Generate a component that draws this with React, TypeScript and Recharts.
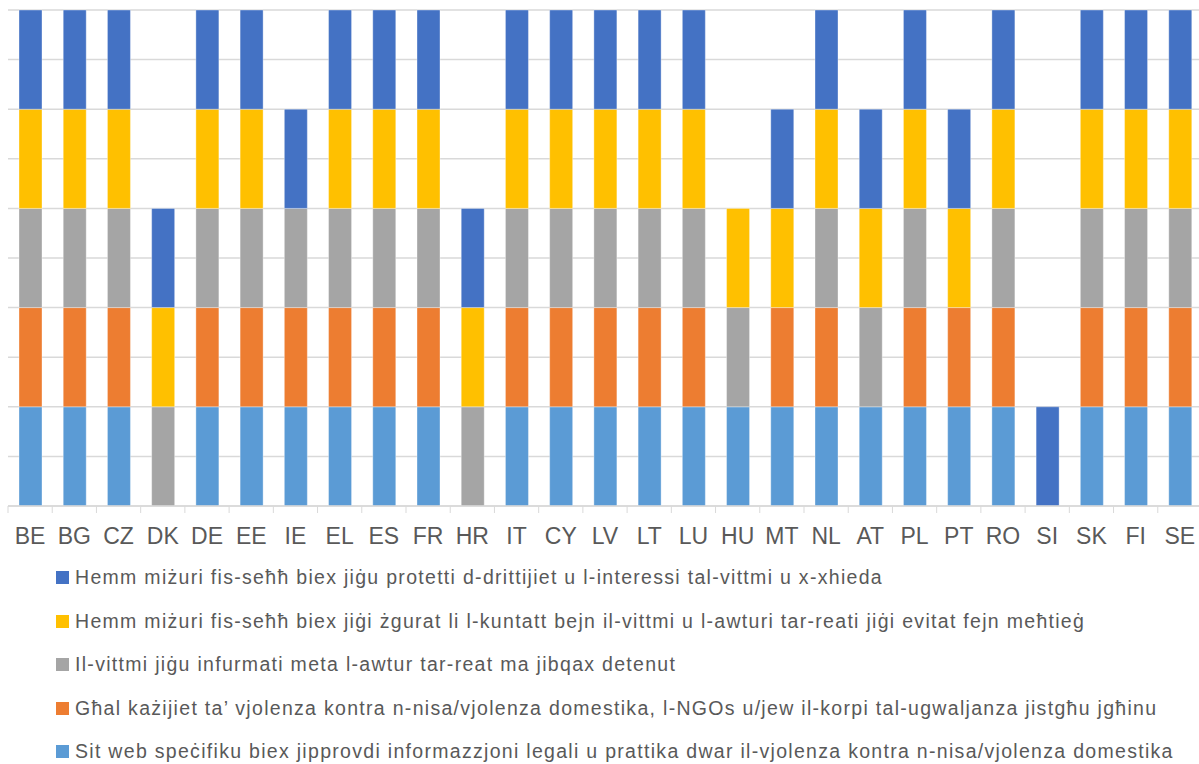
import React from "react";
import { Bar, BarChart, CartesianGrid, Legend, XAxis, YAxis } from "recharts";

const countries = ["BE", "BG", "CZ", "DK", "DE", "EE", "IE", "EL", "ES", "FR", "HR", "IT", "CY", "LV", "LT", "LU", "HU", "MT", "NL", "AT", "PL", "PT", "RO", "SI", "SK", "FI", "SE"];

// stack order, bottom to top
const website = [1, 1, 1, 0, 1, 1, 1, 1, 1, 1, 0, 1, 1, 1, 1, 1, 1, 1, 1, 1, 1, 1, 1, 0, 1, 1, 1];
const ngoSupport = [1, 1, 1, 0, 1, 1, 1, 1, 1, 1, 0, 1, 1, 1, 1, 1, 0, 1, 1, 0, 1, 1, 1, 0, 1, 1, 1];
const informed = [1, 1, 1, 1, 1, 1, 1, 1, 1, 1, 1, 1, 1, 1, 1, 1, 1, 0, 1, 1, 1, 0, 1, 0, 1, 1, 1];
const noContact = [1, 1, 1, 1, 1, 1, 0, 1, 1, 1, 1, 1, 1, 1, 1, 1, 1, 1, 1, 1, 1, 1, 1, 0, 1, 1, 1];
const protection = [1, 1, 1, 1, 1, 1, 1, 1, 1, 1, 1, 1, 1, 1, 1, 1, 0, 1, 1, 1, 1, 1, 1, 1, 1, 1, 1];

const yTicks = [0, 0.5, 1, 1.5, 2, 2.5, 3, 3.5, 4, 4.5, 5];

const series = [
  { key: "website", color: "#5B9BD5", label: "Sit web speċifiku biex jipprovdi informazzjoni legali u prattika dwar il-vjolenza kontra n-nisa/vjolenza domestika" },
  { key: "ngoSupport", color: "#ED7D31", label: "Għal każijiet ta’ vjolenza kontra n-nisa/vjolenza domestika, l-NGOs u/jew il-korpi tal-ugwaljanza jistgħu jgħinu" },
  { key: "informed", color: "#A5A5A5", label: "Il-vittmi jiġu infurmati meta l-awtur tar-reat ma jibqax detenut" },
  { key: "noContact", color: "#FFC000", label: "Hemm miżuri fis-seħħ biex jiġi żgurat li l-kuntatt bejn il-vittmi u l-awturi tar-reati jiġi evitat fejn meħtieġ" },
  { key: "protection", color: "#4472C4", label: "Hemm miżuri fis-seħħ biex jiġu protetti d-drittijiet u l-interessi tal-vittmi u x-xhieda" },
];

const data = countries.map((c, i) => ({
  country: c,
  website: website[i],
  ngoSupport: ngoSupport[i],
  informed: informed[i],
  noContact: noContact[i],
  protection: protection[i],
}));

const FONT = "'Liberation Sans', Arial, sans-serif";
const TEXT = "#595959";
const GRID = "#D9D9D9";

function CountryTick(props: any) {
  const { x, y, payload, index, visibleTicksCount } = props;
  const half = payload.offset || 22;
  const axisY = y - 22;
  return (
    <g>
      <line x1={x - half} x2={x - half} y1={axisY} y2={axisY + 7} stroke={GRID} />
      {index === visibleTicksCount - 1 && (
        <line x1={x + half} x2={x + half} y1={axisY} y2={axisY + 7} stroke={GRID} />
      )}
      <text x={x} y={y} dy="0.71em" textAnchor="middle" fill={TEXT} fontSize={23} fontFamily={FONT}>
        {payload.value}
      </text>
    </g>
  );
}

function LegendList() {
  return (
    <div style={{ fontFamily: FONT, fontSize: 19.5, letterSpacing: 1.3, color: TEXT }}>
      {[...series].reverse().map((s) => (
        <div key={s.key} style={{ height: 43.5, display: "flex", alignItems: "center", whiteSpace: "nowrap" }}>
          <span style={{ width: 13, height: 13, background: s.color, display: "inline-block", marginRight: 6, flexShrink: 0 }} />
          <span>{s.label}</span>
        </div>
      ))}
    </div>
  );
}

export default function App() {
  return (
    <div style={{ position: "absolute", top: 0, left: 0, width: 1199, height: 764, overflow: "hidden", background: "#fff" }}>
      <BarChart width={1202} height={764} data={data} margin={{ top: 10, right: 0, left: 8, bottom: 228 }}>
        <CartesianGrid vertical={false} stroke={GRID} strokeWidth={1.5} />
        <XAxis
          dataKey="country"
          interval={0}
          height={30}
          axisLine={{ stroke: GRID, strokeWidth: 1.5 }}
          tickLine={false}
          tickSize={6}
          tickMargin={16}
          tick={<CountryTick />}
        />
        <YAxis hide domain={[0, 5]} ticks={yTicks} />
        {series.map((s) => (
          <Bar
            key={s.key}
            dataKey={s.key}
            stackId="a"
            fill={s.color}
            stroke="#ffffff"
            strokeOpacity={0.35}
            strokeWidth={1}
            barSize={23}
            isAnimationActive={false}
          />
        ))}
        <Legend
          layout="vertical"
          align="center"
          verticalAlign="middle"
          content={() => <LegendList />}
          wrapperStyle={{ top: 556, left: 56, width: "auto" }}
        />
      </BarChart>
    </div>
  );
}
